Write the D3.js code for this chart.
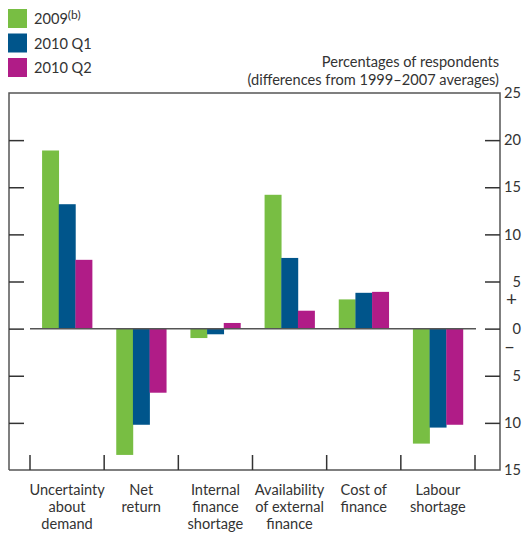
<!DOCTYPE html>
<html>
<head>
<meta charset="utf-8">
<script src="https://cdn.jsdelivr.net/npm/d3@7"></script>
<style>
  body { margin: 0; background: #fff; }
  text { font-family: Lato, "Open Sans", sans-serif; fill: #333; }
</style>
</head>
<body>
<div id="chart"></div>
<script>
// Data
const categories = [
    ["Uncertainty", "about", "demand"],
    ["Net", "return"],
    ["Internal", "finance", "shortage"],
    ["Availability", "of external", "finance"],
    ["Cost of", "finance"],
    ["Labour", "shortage"]
];
const seriesNames = ["2009", "2010 Q1", "2010 Q2"];
const values2009 = [18.9, -13.4, -1.0, 14.2, 3.1, -12.2];
const values2010Q1 = [13.2, -10.2, -0.6, 7.5, 3.8, -10.5];
const values2010Q2 = [7.3, -6.8, 0.6, 1.9, 3.9, -10.2];
const tickValues = [-15, -10, -5, 0, 5, 10, 15, 20, 25];

const seriesValues = [values2009, values2010Q1, values2010Q2];
const colors = ["#78be43", "#00558b", "#b01c87"];

const W = 522, H = 534;
const frame = { left: 9, right: 500, top: 93, bottom: 470 };
const FS = "14.6px";

const svg = d3.select("#chart").append("svg")
    .attr("width", W)
    .attr("height", H);

// Scales
const catIdx = categories.map((d, i) => i);
const x0 = d3.scaleBand()
    .domain(catIdx)
    .range([30, 475])
    .padding(0);

const x1 = d3.scaleBand()
    .domain(seriesNames)
    .range([0, x0.bandwidth()])
    .paddingInner(0)
    .paddingOuter(0.725);

const y = d3.scaleLinear()
    .domain([-15, 25])
    .range([frame.bottom, frame.top]);

// Bars
const rows = [];
catIdx.forEach(i => {
    seriesNames.forEach((s, j) => rows.push({ cat: i, series: s, j: j, value: seriesValues[j][i] }));
});

svg.append("g").selectAll("rect")
    .data(rows)
    .join("rect")
    .attr("x", d => x0(d.cat) + x1(d.series))
    .attr("width", x1.bandwidth() + 0.3)
    .attr("y", d => y(Math.max(0, d.value)))
    .attr("height", d => Math.abs(y(d.value) - y(0)))
    .attr("fill", d => colors[d.j]);

// Zero line
svg.append("line")
    .attr("x1", 30).attr("x2", 476)
    .attr("y1", y(0)).attr("y2", y(0))
    .attr("stroke", "#555").attr("stroke-width", 1.5);

// Frame
svg.append("path")
    .attr("d", `M${frame.left},${frame.bottom}V${frame.top}H${frame.right}V${frame.bottom}H${frame.left}`)
    .attr("fill", "none")
    .attr("stroke", "#555")
    .attr("stroke-width", 1.5);

// Left ticks
const inner = tickValues.filter(v => v > -15 && v < 25);
svg.append("g")
    .attr("transform", `translate(${frame.left},0)`)
    .call(d3.axisRight(y).tickValues(inner).tickSize(15).tickFormat(""))
    .call(g => g.select(".domain").remove())
    .call(g => g.selectAll("line").attr("stroke", "#333").attr("stroke-width", 1.5));

// Right axis
svg.append("g")
    .attr("transform", `translate(${frame.right},0)`)
    .call(d3.axisRight(y).tickValues(tickValues).tickSizeInner(-15).tickSizeOuter(0)
        .tickFormat(d => Math.abs(d)))
    .call(g => g.select(".domain").remove())
    .call(g => g.selectAll(".tick line")
        .attr("stroke", "#333").attr("stroke-width", 1.5)
        .attr("display", d => (d === 25 || d === -15) ? "none" : null))
    .call(g => g.selectAll(".tick text")
        .attr("x", 21)
        .attr("text-anchor", "end")
        .attr("fill", "#333")
        .style("font-size", FS)
        .style("font-family", "Lato, sans-serif"));

svg.append("text").attr("x", 517).attr("y", y(2.5) + 1)
    .attr("text-anchor", "end").style("font-size", "19px").text("+");
svg.append("text").attr("x", 515).attr("y", y(-2) + 6)
    .attr("text-anchor", "end").style("font-size", "19px").text("\u2013");

// Category separators
const seps = catIdx.map(i => x0(i)).concat([x0.range()[1]]);
svg.append("g").selectAll("line")
    .data(seps)
    .join("line")
    .attr("x1", d => d).attr("x2", d => d)
    .attr("y1", frame.bottom - 15).attr("y2", frame.bottom)
    .attr("stroke", "#333").attr("stroke-width", 1.5);

// Category labels
const catLabels = svg.append("g").selectAll("text")
    .data(categories)
    .join("text")
    .attr("text-anchor", "middle")
    .attr("x", (d, i) => x0(i) + x0.bandwidth() / 2)
    .attr("y", 495)
    .style("font-size", FS);
catLabels.selectAll("tspan")
    .data(d => d)
    .join("tspan")
    .attr("x", function() { return this.parentNode.getAttribute("x"); })
    .attr("dy", (d, i) => i === 0 ? 0 : 16.8)
    .text(d => d);

// Axis title
svg.append("text")
    .attr("x", 499).attr("y", 67)
    .attr("text-anchor", "end")
    .style("font-size", FS)
    .text("Percentages of respondents");
svg.append("text")
    .attr("x", 499).attr("y", 85)
    .attr("text-anchor", "end")
    .style("font-size", FS)
    .text("(differences from 1999\u20132007 averages)");

// Legend
const legend = svg.append("g");
seriesNames.forEach((s, i) => {
    const row = legend.append("g").attr("transform", `translate(8,${9 + i * 24.5})`);
    row.append("rect").attr("width", 19).attr("height", 19).attr("fill", colors[i]);
    const t = row.append("text").attr("x", 26).attr("y", 15).style("font-size", FS).text(s);
    if (i === 0) {
        t.append("tspan").attr("dy", -5).style("font-size", "12px").text("(b)");
    }
});
</script>
</body>
</html>
